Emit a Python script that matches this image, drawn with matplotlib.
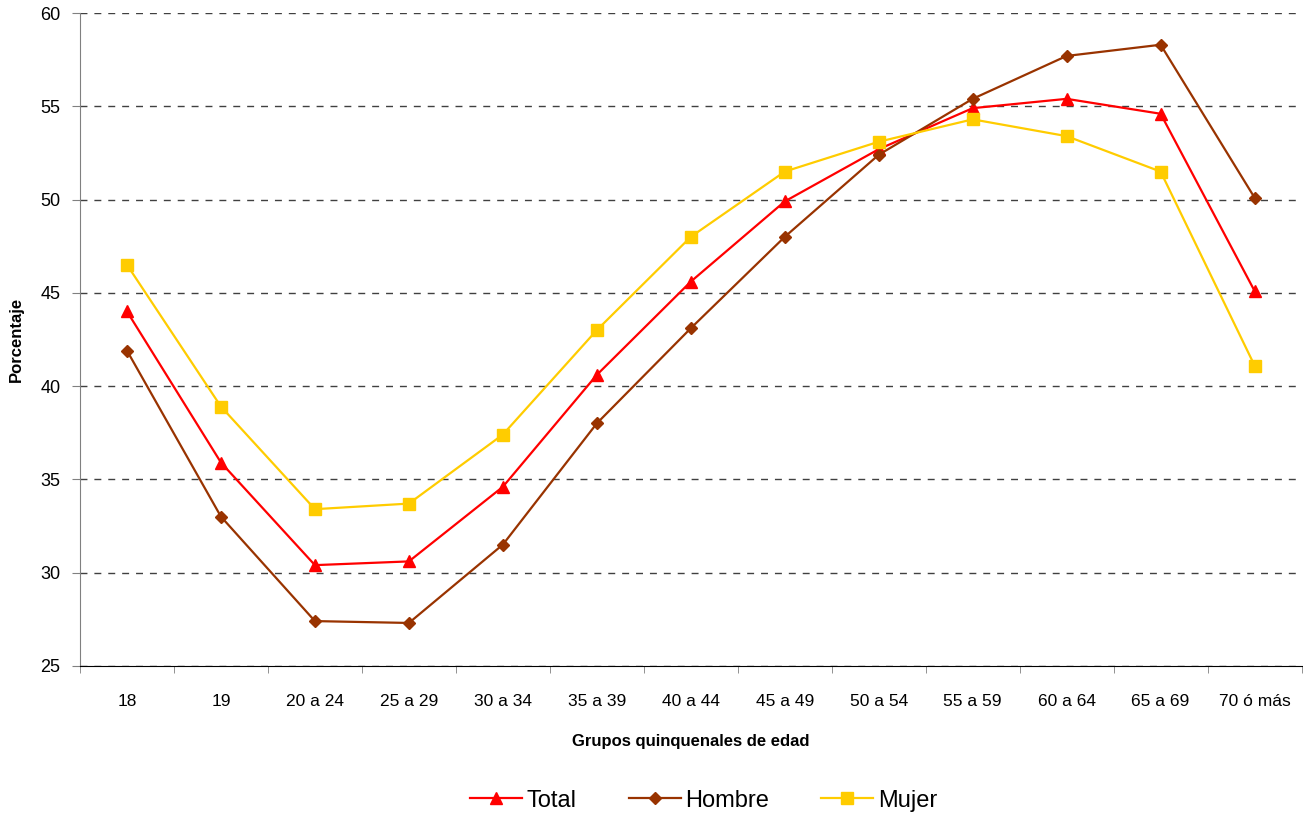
import matplotlib
matplotlib.use("Agg")
import matplotlib.pyplot as plt
import numpy as np

plt.rcParams['font.family'] = ['Liberation Sans', 'DejaVu Sans']

grupos = ["18", "19", "20 a 24", "25 a 29", "30 a 34", "35 a 39", "40 a 44",
          "45 a 49", "50 a 54", "55 a 59", "60 a 64", "65 a 69", "70 ó más"]
total = [44.0, 35.9, 30.4, 30.6, 34.6, 40.6, 45.6, 49.9, 52.7, 54.9, 55.4, 54.6, 45.1]
hombre = [41.9, 33.0, 27.4, 27.3, 31.5, 38.0, 43.1, 48.0, 52.4, 55.4, 57.7, 58.3, 50.1]
mujer = [46.5, 38.9, 33.4, 33.7, 37.4, 43.0, 48.0, 51.5, 53.1, 54.3, 53.4, 51.5, 41.1]

fig = plt.figure(figsize=(13.03, 8.15), dpi=100)
ax = fig.add_axes([0.0614, 0.183, 0.9375, 0.801])

x = np.arange(len(grupos))
ax.plot(x, total, color='#FF0000', marker='^', markersize=8, lw=1.6, label='Total')
ax.plot(x, hombre, color='#993300', marker='D', markersize=6, lw=1.6, label='Hombre')
ax.plot(x, mujer, color='#FFCC00', marker='s', markersize=8, lw=1.6, label='Mujer')

ax.set_ylim(25, 60)
ax.set_yticks(range(25, 61, 5))
ax.set_xlim(-0.5, len(grupos) - 0.5)
ax.set_xticks(x)
ax.set_xticklabels(grupos, fontsize=12.5)
ax.set_xticks(np.arange(-0.5, len(grupos), 1), minor=True)
ax.tick_params(axis='x', which='major', length=0, pad=20)
ax.tick_params(axis='x', which='minor', length=5, direction='out', color='#808080')
ax.tick_params(axis='y', labelsize=13, length=6, direction='out', color='#808080', pad=8)

for s in ['top', 'right']:
    ax.spines[s].set_visible(False)
ax.spines['left'].set_color('#808080')
ax.spines['bottom'].set_color('black')

ax.yaxis.grid(True, linestyle=(0, (5, 5)), color='#404040', lw=1)
ax.set_axisbelow(True)

ax.set_ylabel('Porcentaje', fontsize=12, fontweight='bold', labelpad=12)
ax.set_xlabel('Grupos quinquenales de edad', fontsize=12, fontweight='bold', labelpad=18)

fig.legend(loc='lower center', bbox_to_anchor=(0.54, -0.022), ncol=3, frameon=False,
           fontsize=17, handlelength=2.2, columnspacing=2.2, handletextpad=0.2)

fig.savefig('out.png', dpi=100)
